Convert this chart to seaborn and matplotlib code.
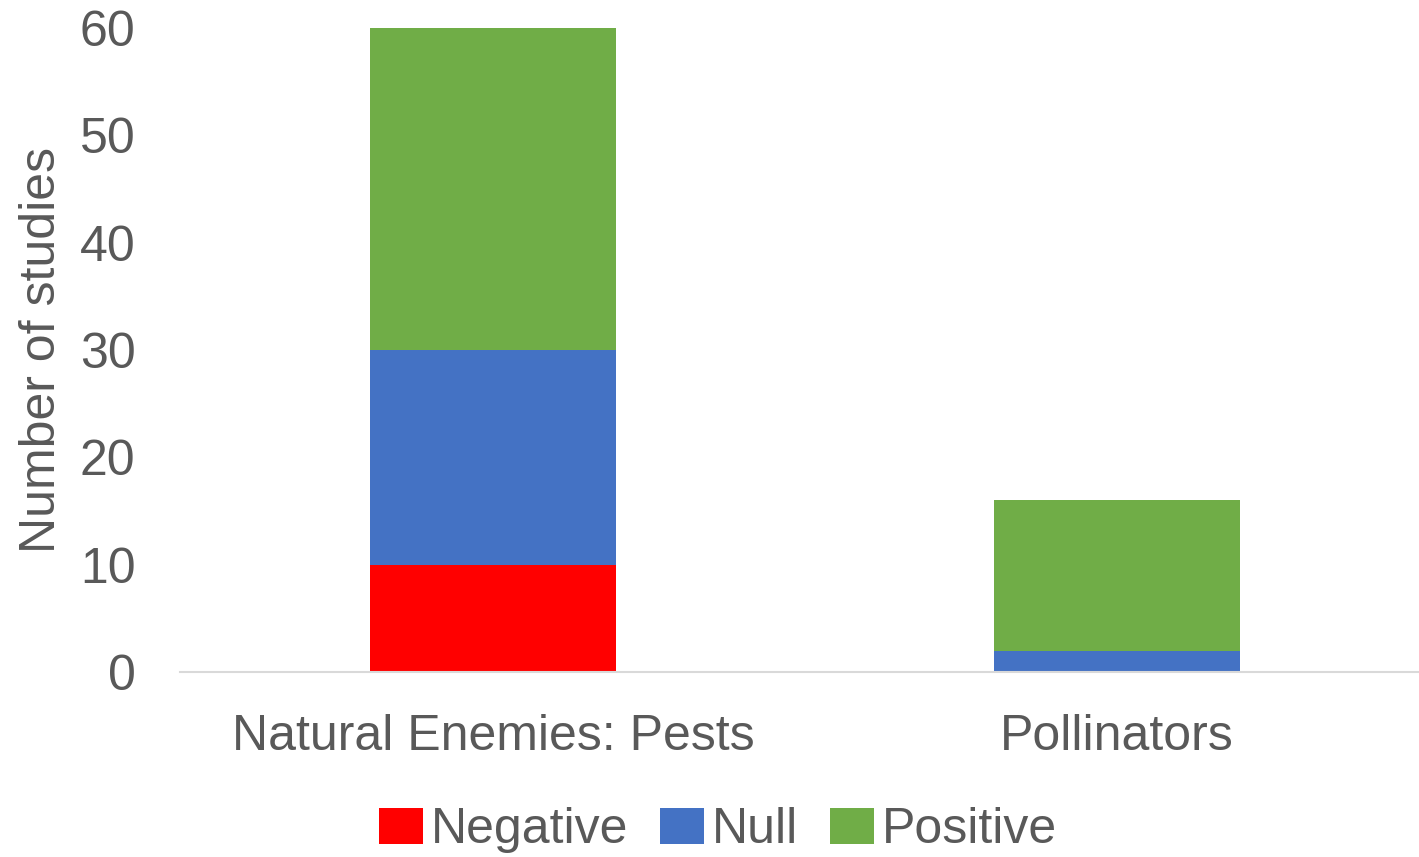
import matplotlib
matplotlib.use("Agg")
import matplotlib.pyplot as plt
import seaborn as sns
import numpy as np
from matplotlib.patches import Patch

categories = ["Natural Enemies: Pests", "Pollinators"]
series_names = ["Negative", "Null", "Positive"]
negative = [10, 0]
null = [20, 2]
positive = [30, 14]
colors = ["#FF0000", "#4472C4", "#70AD47"]
yticks = [0, 10, 20, 30, 40, 50, 60]

sns.set_theme(style="white")
plt.rcParams["font.family"] = ["Liberation Sans", "DejaVu Sans"]
text_color = "#595959"
fs = 36

fig = plt.figure(figsize=(14.19, 8.57), dpi=100)
ax = fig.add_axes([0.1268, 0.2159, 0.8732, 0.7514])

vals = np.array([negative, null, positive], dtype=float)
cum = np.cumsum(vals, axis=0)

# draw from top of stack down so lower segments overlay
for i in reversed(range(len(series_names))):
    sns.barplot(x=categories, y=cum[i], color=colors[i], saturation=1,
                width=0.394, ax=ax, linewidth=0, edgecolor="none")

ax.set_xlim(-0.5016, 1.484)
ax.set_ylim(0, 60)
ax.set_yticks(yticks)
ax.set_yticklabels([str(t) for t in yticks])

for s in ["top", "right", "left"]:
    ax.spines[s].set_visible(False)
ax.spines["bottom"].set_color("#D9D9D9")
ax.spines["bottom"].set_linewidth(1.5)

ax.tick_params(axis="y", length=0, pad=32, labelsize=fs, labelcolor=text_color)
ax.tick_params(axis="x", length=0, pad=30, labelsize=fs, labelcolor=text_color)

ax.set_ylabel("Number of studies", fontsize=fs, color=text_color)
ax.yaxis.set_label_coords(-0.093, 0.5)
ax.set_xlabel("")

handles = [Patch(facecolor=c, edgecolor="none") for c in colors]
fig.legend(handles, series_names, loc="center", bbox_to_anchor=(0.506, 0.031),
           ncol=3, frameon=False, fontsize=fs, labelcolor=text_color,
           handlelength=0.88, handleheight=0.74, handletextpad=0.16,
           columnspacing=0.64, borderpad=0, borderaxespad=0)

fig.savefig("out.png", dpi=100)
